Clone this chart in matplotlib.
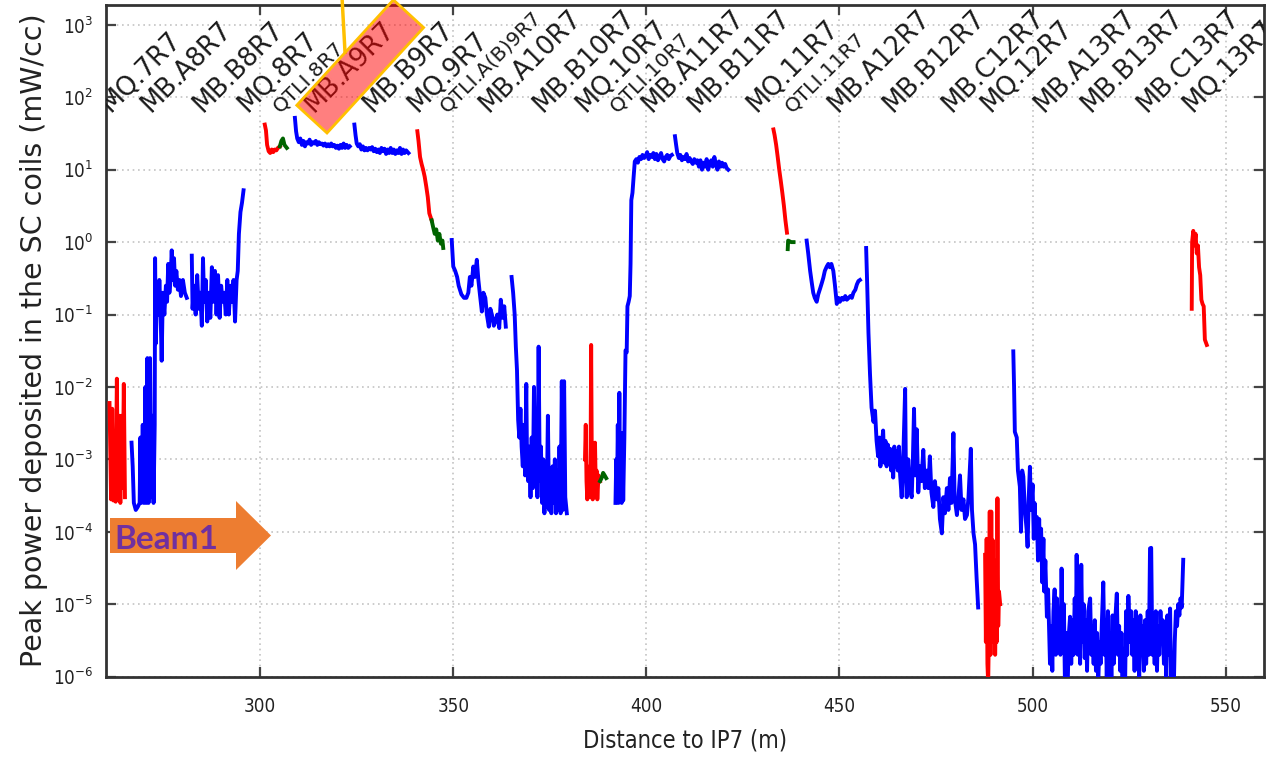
import numpy as np
import matplotlib
matplotlib.use("Agg")
import matplotlib.pyplot as plt
import matplotlib.patches as mpatches
from matplotlib.lines import Line2D
from matplotlib.ticker import NullLocator, FixedLocator

# element names written along the top, and where they sit along the line (m)
element_names = ["MQ.7R7", "MB.A8R7", "MB.B8R7", "MQ.8R7", "QTLI.8R7", "MB.A9R7", "MB.B9R7",
                 "MQ.9R7", "QTLI.A(B)9R7", "MB.A10R7", "MB.B10R7", "MQ.10R7", "QTLI.10R7",
                 "MB.A11R7", "MB.B11R7", "MQ.11R7", "QTLI.11R7", "MB.A12R7", "MB.B12R7",
                 "MB.C12R7", "MQ.12R7", "MB.A13R7", "MB.B13R7", "MB.C13R7", "MQ.13R7"]
element_pos = [261.1, 271.5, 285.2, 296.8, 305.1, 313.7, 329.2,
               340.6, 348.4, 359.0, 373.2, 384.1, 392.4,
               401.4, 413.3, 428.6, 437.7, 449.6, 463.6,
               479.1, 489.0, 502.7, 514.9, 529.6, 541.3]

# --- quadrupoles (red) ---
mq7_x = [261.0, 261.4, 261.7, 262.0, 262.3, 262.6, 262.9, 263.2, 263.5, 263.8, 264.1, 264.4, 264.7, 265.0]
mq7_y = [6e-3, 2.8e-4, 5e-3, 2.7e-4, 1.1e-3, 2.6e-4, 1.3e-2, 3e-4, 4e-3, 2.5e-4, 4e-3, 4e-4, 1.1e-2, 3e-4]

mq8_x = [301.2, 301.5, 301.8, 302.2, 302.6, 303.0, 303.4, 303.8, 304.2, 304.6, 305.1]
mq8_y = [42, 35, 22, 18, 17, 19, 17.5, 19, 18.5, 20, 21]

mq9_x = [340.7, 341.0, 341.4, 341.8, 342.2, 342.6, 343.0, 343.4, 343.8, 344.4]
mq9_y = [34, 25, 15, 12, 10, 8, 5.9, 4.2, 2.5, 2.0]

mq10_x = [384.1, 384.3, 384.5, 384.7, 384.9, 385.1, 385.3, 385.5, 385.7, 385.9,
          386.1, 386.3, 386.5, 386.7, 386.9, 387.1, 387.3, 387.6, 388.0]
mq10_y = [1e-3, 3e-3, 5e-4, 2.8e-4, 7e-4, 4e-4, 8e-4, 3e-4, 3.8e-2, 5e-4,
          2.8e-4, 1e-3, 3e-4, 1.7e-3, 4e-4, 7e-4, 2.8e-4, 6e-4, 5e-4]

mq11_x = [432.9, 433.2, 433.6, 434.0, 434.4, 434.8, 435.2, 435.6, 436.0, 436.4]
mq11_y = [36, 30, 22, 15, 10, 7, 4.8, 3.2, 2.0, 1.35]

mq12_x = [487.7, 487.9, 488.1, 488.3, 488.5, 488.7, 488.9, 489.1, 489.3, 489.5,
          489.7, 489.9, 490.1, 490.3, 490.5, 490.7, 490.9, 491.1, 491.3, 491.6]
mq12_y = [4.8e-5, 3e-6, 8e-5, 1.5e-6, 8e-7, 5e-6, 1.9e-4, 2e-6, 1.9e-4, 4e-6,
          7.6e-5, 3e-6, 4e-5, 2e-6, 1e-5, 3e-6, 2.9e-4, 5e-6, 1.5e-5, 1e-5]

mq13_x = [541.2, 541.3, 541.6, 541.9, 542.2, 542.5, 542.8, 543.1, 543.4, 543.7, 544.0, 544.3, 544.6, 545.1]
mq13_y = [0.12, 1.0, 1.43, 0.9, 1.3, 0.7, 0.9, 0.45, 0.35, 0.16, 0.14, 0.13, 0.045, 0.038]

# --- QTLI (green) ---
qtli8_x = [305.1, 305.5, 305.9, 306.3, 306.9]
qtli8_y = [21, 25, 27, 22, 20]

qtli9_x = [344.4, 344.8, 345.2, 345.6, 346.0, 346.4, 346.8, 347.2, 347.4]
qtli9_y = [2.0, 1.6, 1.3, 1.5, 1.05, 1.3, 0.95, 1.05, 0.83]

qtli10_x = [388.0, 388.4, 388.8, 389.2, 389.6]
qtli10_y = [5e-4, 5.5e-4, 6.5e-4, 6e-4, 5.5e-4]

qtli11_x = [436.6, 436.7, 437.5, 438.1]
qtli11_y = [0.8, 1.05, 1.0, 1.0]

# --- dipoles (blue) ---
mb8_x = [266.7, 267.0, 267.3, 267.8, 268.3, 268.8, 269.0, 269.2, 269.6, 269.9, 270.3, 270.5, 270.8,
         271.1, 271.5, 271.8, 272.1, 272.4, 272.7, 272.8, 273.0, 273.3, 273.6, 273.9, 274.2, 274.5,
         274.8, 275.2, 275.6, 275.9, 276.2, 276.5, 276.8, 277.1, 277.4, 277.7, 278.0, 278.3, 278.7,
         279.1, 279.5, 280.0, 280.5, 281.0, np.nan,
         282.3, 282.5, 282.9, 283.3, 283.7, 284.1, 284.5, 284.9, 285.2, 285.5, 285.9, 286.3, 286.7,
         287.1, 287.5, 287.9, 288.3, 288.7, 289.1, 289.5, 289.9, 290.3, 290.7, 291.1, 291.5, 291.9,
         292.3, 292.7, 293.1, 293.5, 293.9, 294.2, 294.5, 294.9, 295.3, 295.7]
mb8_y = [1.7e-3, 8e-4, 2.5e-4, 2e-4, 2.2e-4, 2.5e-4, 2e-3, 2.5e-4, 3e-3, 2.5e-4, 1e-2, 2.5e-4, 2.5e-2,
         2.5e-4, 2.5e-2, 3e-4, 4e-3, 2.5e-4, 3e-3, 0.6, 0.04, 0.25, 0.1, 0.3, 0.12, 0.023,
         0.2, 0.1, 0.25, 0.15, 0.5, 0.2, 0.3, 0.77, 0.3, 0.6, 0.25, 0.4, 0.22,
         0.3, 0.18, 0.3, 0.2, 0.17, np.nan,
         0.65, 0.12, 0.25, 0.1, 0.35, 0.12, 0.2, 0.07, 0.6, 0.15, 0.3, 0.08, 0.2,
         0.09, 0.45, 0.15, 0.4, 0.1, 0.35, 0.09, 0.25, 0.15, 0.2, 0.1, 0.3, 0.1,
         0.25, 0.15, 0.3, 0.08, 0.3, 0.4, 1.3, 2.6, 3.5, 5.2]

mb9_x = [309.0, 309.3, 309.6, 310.0, 310.4, 310.8, 311.2, 311.6, 312.0, 312.4, 312.8, 313.2, 313.6,
         314.0, 314.4, 314.8, 315.2, 315.6, 316.0, 316.4, 316.8, 317.2, 317.6, 318.0, 318.4, 318.8,
         319.2, 319.6, 320.0, 320.4, 320.8, 321.2, 321.6, 322.0, 322.4, 322.8, 323.2, np.nan,
         324.4, 324.7, 325.0, 325.4, 325.8, 326.2, 326.6, 327.0, 327.4, 327.8, 328.2, 328.6, 329.0,
         329.4, 329.8, 330.2, 330.6, 331.0, 331.4, 331.8, 332.2, 332.6, 333.0, 333.4, 333.8, 334.2,
         334.6, 335.0, 335.4, 335.8, 336.2, 336.6, 337.0, 337.4, 337.8, 338.4]
mb9_y = [52, 34, 27, 24, 27, 22, 25, 21, 24, 23, 26, 22, 24,
         23, 25, 22, 24, 22.5, 23, 21.5, 23, 21, 22.5, 21, 23, 21,
         22, 20, 21.5, 19.5, 22, 20, 23, 20, 22, 20, 21, np.nan,
         42, 30, 23, 21, 22.5, 19, 21, 18.5, 20, 18.5, 20, 19, 20.5,
         18, 19.5, 17.5, 19, 17, 20, 18, 19.5, 16.5, 19, 17, 20, 17,
         19, 16.5, 18.5, 17, 20, 16.5, 19, 17, 18.5, 17]

mb10_x = [349.6, 350.0, 350.5, 351.0, 351.4, 352.1, 352.8, 353.4, 353.9, 354.3, 354.7, 355.2,
          355.6, 356.1, 356.5, 356.9, 357.4, 357.8, 358.3, 358.7, 359.2, 359.6, 360.0, 360.5,
          361.0, 361.4, 361.9, 362.3, 362.8, 363.2, 363.6, np.nan,
          365.1, 365.5, 365.9, 366.2, 366.5, 366.8, 367.1, 367.4, 367.7, 368.0, 368.3, 368.6,
          368.9, 369.1, 369.4, 369.7, 370.0, 370.3, 370.6, 370.9, 371.2, 371.5, 371.8, 372.1,
          372.4, 372.7, 373.0, 373.3, 373.6, 373.9, 374.2, 374.5, 374.8, 375.1, 375.4, 375.7,
          376.0, 376.3, 376.6, 376.9, 377.2, 377.5, 377.8, 378.1, 378.4, 378.7, 379.0, 379.4]
mb10_y = [1.07, 0.46, 0.4, 0.33, 0.25, 0.19, 0.17, 0.17, 0.2, 0.33, 0.25, 0.46,
          0.33, 0.57, 0.3, 0.19, 0.11, 0.2, 0.17, 0.1, 0.068, 0.12, 0.1, 0.07,
          0.085, 0.1, 0.065, 0.16, 0.09, 0.13, 0.068, np.nan,
          0.33, 0.2, 0.1, 0.036, 0.017, 3.5e-3, 2e-3, 5e-3, 1.5e-3, 8e-4, 3e-3, 6e-4,
          1.1e-2, 1e-3, 5e-4, 1.5e-3, 3e-4, 2e-3, 4e-4, 1e-2, 6e-4, 2e-3, 3e-4, 3.6e-2,
          5e-4, 1.5e-3, 2.5e-4, 1e-3, 1.8e-4, 5e-4, 2.2e-4, 4e-3, 2e-4, 6e-4, 1.8e-4, 8e-4,
          2.5e-4, 1e-3, 1.8e-4, 7e-4, 2e-4, 1.5e-3, 1.8e-4, 1.2e-2, 2e-4, 1.2e-2, 3e-4, 1.8e-4]

mb11_x = [392.0, 392.2, 392.4, 392.6, 392.8, 393.0, 393.2, 393.4, 393.6, 393.8, 394.0, 394.3,
          394.6, 394.9, 395.1, 395.4, 395.7, 395.9, 396.1, 396.4, 396.7, 397.0, 397.4, 397.8,
          398.2, 398.6, 399.0, 399.4, 399.8, 400.2, 400.6, 401.0, 401.4, 401.8, 402.2, 402.6,
          403.0, 403.4, 403.8, 404.2, 404.6, 405.0, 405.4, 405.8, 406.2, 406.6, np.nan,
          407.4, 407.7, 408.0, 408.4, 408.8, 409.2, 409.6, 410.0, 410.4, 410.8, 411.2, 411.6,
          412.0, 412.4, 412.8, 413.2, 413.6, 414.0, 414.4, 414.8, 415.2, 415.6, 416.0, 416.4,
          416.8, 417.2, 417.6, 418.0, 418.4, 418.8, 419.2, 419.6, 420.0, 420.4, 420.8, 421.2]
mb11_y = [2.5e-4, 1e-3, 3e-4, 3e-3, 2.5e-4, 8.3e-3, 3e-4, 2e-3, 2.5e-4, 2.3e-3, 2.7e-4, 2e-3,
          3.2e-2, 3e-2, 0.13, 0.15, 0.18, 0.5, 3.8, 4.8, 8, 13, 14, 12.5,
          15, 14, 16, 14.5, 15.5, 17.5, 14, 16, 15, 17, 14, 16.5,
          13.5, 15, 17, 14, 13, 15, 16, 14, 15.5, 16, np.nan,
          29, 22, 17, 14.5, 16, 13.5, 15, 14, 16.5, 13, 14.5, 13,
          12, 14, 12.5, 13.5, 11, 13.5, 10, 12.5, 11, 14, 10, 12,
          13.5, 11, 15, 12, 10, 13, 11, 12.5, 11, 12, 10.5, 10]

mb12a_x = [441.5, 441.9, 442.4, 442.8, 443.2, 443.6, 444.1, 444.5, 445.0, 445.4, 445.8, 446.2,
           446.7, 447.1, 447.5, 447.9, 448.4, 448.8, 449.3, 449.7, 450.1, 450.6, 451.0, 451.5,
           451.9, 452.4, 452.8, 453.2, 453.6, 454.1, 454.5, 454.9, 455.3]
mb12a_y = [1.05, 0.7, 0.4, 0.28, 0.2, 0.17, 0.15, 0.19, 0.23, 0.27, 0.32, 0.4,
           0.46, 0.5, 0.45, 0.5, 0.4, 0.26, 0.14, 0.17, 0.15, 0.17, 0.16, 0.18,
           0.16, 0.17, 0.18, 0.17, 0.2, 0.22, 0.26, 0.29, 0.3]

mb12bc_x = [456.9, 457.2, 457.5, 457.9, 458.3, 458.8, 459.2, 459.6, 460.0, 460.3, 460.6, 460.9,
            461.3, 461.6, 461.9, 462.2, 462.5, 462.8, 463.1, 463.4, 463.7, 463.9, 464.2, 464.5,
            464.8, 465.1, 465.4, 465.7, 466.1, 466.5, 467.0, 467.2, 467.4, 467.8, 468.2, 468.7,
            469.0, 469.3, 469.6, 470.0, 470.4, 470.8, 471.2, 471.7, 472.1, 472.6, 473.0, 473.4,
            473.8, 474.3, 474.7, 475.2, 475.6, 476.0, 476.5, 476.9, 477.3, 477.8, 478.2, 478.6,
            479.0, 479.5, 479.8, 480.4, 480.8, 481.2, 481.6, 482.1, 482.5, 483.0, 483.4, 484.0,
            484.3, 484.7, 485.1, 485.5, 485.9]
mb12bc_y = [0.83, 0.23, 0.056, 0.015, 5.2e-3, 3.3e-3, 4.7e-3, 1.8e-3, 1.1e-3, 2e-3, 8e-4, 1.5e-3,
            2.5e-3, 9e-4, 1.8e-3, 8e-4, 1.6e-3, 1e-3, 1.4e-3, 7e-4, 1.2e-3, 5.6e-4, 1.5e-3, 8e-4,
            1.3e-3, 7e-4, 1.5e-3, 6e-4, 3e-4, 1e-3, 9.4e-3, 6e-4, 3e-4, 1e-3, 4e-4, 3e-4,
            1e-3, 5e-3, 6e-4, 2.6e-3, 3.5e-4, 8e-4, 5e-4, 1.35e-3, 4e-4, 7e-4, 4e-4, 1.1e-3,
            3.5e-4, 2.2e-4, 5e-4, 2.8e-4, 4e-4, 1.5e-4, 9.5e-5, 3e-4, 1.8e-4, 4e-4, 2e-4, 5.5e-4,
            2.5e-4, 2.3e-3, 3e-4, 1.7e-4, 3e-4, 6e-4, 2e-4, 2.8e-4, 1.5e-4, 1.7e-4, 3e-4, 1.4e-3,
            2e-4, 9.5e-5, 6.7e-5, 2.3e-5, 9e-6]

mb13_x = [495.0, 495.2, 495.4, 495.9, 496.2, 496.7, 497.0, 497.3, 497.6, 498.0, 498.5, 498.7,
          499.0, 499.3, 499.6, 500.0, 500.3, 500.5, 500.8, 501.1, 501.4, 501.7, 501.9, 502.2,
          502.5, 502.8, 503.0, 503.3, 503.7, 504.0, 504.3, 504.5, 504.8, 505.1, 505.4, 505.7,
          506.0, 506.3, 506.6, 506.9, 507.2, 507.5, 507.8, 508.1, 508.4, 508.7, 509.0, 509.4,
          509.7, 510.0, 510.3, 510.6, 510.9, 511.2, 511.4, 511.7, 512.0, 512.3, 512.6, 512.9,
          513.2, 513.5, 513.8, 514.1, 514.4, 514.9, 515.2, 515.5, 515.8, 516.1, 516.4, 516.7,
          517.0, 517.3, 517.6, 517.9, 518.3, 518.6, 518.9, 519.2, 519.5, 519.8, 520.1, 520.4,
          520.7, 521.0, 521.3, 521.8, 522.1, 522.4, 522.7, 523.0, 523.3, 523.6, 523.9, 524.2,
          524.5, 524.8, 525.2, 525.5, 525.8, 526.1, 526.4, 526.7, 527.0, 527.3, 527.6, 527.9,
          528.2, 528.5, 528.8, 529.1, 529.4, 529.8, 530.1, 530.4, 530.7, 531.0, 531.3, 531.6,
          531.9, 532.2, 532.5, 532.8, 533.1, 533.4, 533.7, 534.0, 534.3, 534.6, 534.9, 535.2,
          535.6, 535.9, 536.2, 536.5, 536.8, 537.1, 537.4, 537.7, 538.0, 538.3, 538.6, 539.0]
mb13_y = [3.1e-2, 1e-2, 2.4e-3, 2e-3, 7e-4, 4.2e-4, 1e-4, 7e-4, 5.8e-4, 2e-4, 1e-4, 6.2e-5,
          3e-4, 7.9e-4, 2e-4, 4.5e-4, 8e-5, 2.5e-4, 1e-4, 1.6e-4, 4e-5, 1.5e-4, 5e-5, 1.1e-4,
          2e-5, 8e-5, 1.5e-5, 4e-5, 6.7e-6, 1.6e-5, 4e-6, 1.5e-6, 5e-6, 1.2e-6, 8e-6, 1.6e-5,
          2e-6, 1.2e-5, 3e-6, 8e-6, 2e-6, 3.1e-5, 3e-6, 1e-5, 6e-7, 4e-6, 5e-7, 4e-6,
          6.7e-6, 1.5e-6, 6e-6, 2e-6, 1.2e-5, 3e-6, 4.8e-5, 2e-6, 8e-6, 1.5e-6, 3.5e-5, 3e-6,
          1e-5, 1.8e-6, 6e-6, 1.2e-6, 8e-6, 1.2e-5, 2e-6, 5e-6, 1.5e-6, 6e-6, 1.2e-6, 4e-6,
          8e-7, 3e-6, 1.5e-6, 5e-6, 2e-5, 2e-6, 6e-6, 1e-6, 8e-6, 1.5e-6, 4e-6, 8e-7,
          7e-6, 1.5e-6, 5e-6, 1.4e-5, 2e-6, 5e-6, 1.2e-6, 4e-6, 5e-7, 4e-7, 5e-7, 8e-6,
          2e-6, 1.3e-5, 3e-6, 8e-6, 2e-6, 6e-6, 1.2e-6, 8e-6, 1.5e-6, 4e-6, 1e-6, 7e-6,
          2e-6, 5e-6, 1.2e-6, 6e-6, 1.5e-6, 8e-6, 2e-6, 5.9e-5, 6e-5, 2e-6, 6.7e-6, 1.5e-6,
          8e-6, 1.2e-6, 5e-6, 2e-6, 8e-6, 3e-6, 6e-6, 1.5e-6, 5e-6, 1e-6, 7e-6, 2e-6,
          8.7e-6, 5e-7, 4e-7, 5e-7, 3e-6, 8e-6, 5e-6, 1e-5, 7e-6, 1.2e-5, 9e-6, 4.1e-5]

red_segments = [(mq7_x, mq7_y), (mq8_x, mq8_y), (mq9_x, mq9_y), (mq10_x, mq10_y),
                (mq11_x, mq11_y), (mq12_x, mq12_y), (mq13_x, mq13_y)]
green_segments = [(qtli8_x, qtli8_y), (qtli9_x, qtli9_y), (qtli10_x, qtli10_y), (qtli11_x, qtli11_y)]
blue_segments = [(mb8_x, mb8_y), (mb9_x, mb9_y), (mb10_x, mb10_y), (mb11_x, mb11_y),
                 (mb12a_x, mb12a_y), (mb12bc_x, mb12bc_y), (mb13_x, mb13_y)]

W, H, DPI = 1273, 759, 100
fig = plt.figure(figsize=(W / DPI, H / DPI), dpi=DPI, facecolor="white")
ax = fig.add_axes([0.0830, 0.1086, 0.9102, 0.8852])

for x, y in blue_segments:
    ax.plot(x, y, color="#0000ff", lw=2.8, zorder=3)
for x, y in red_segments:
    ax.plot(x, y, color="#ff0000", lw=2.8, zorder=3)
for x, y in green_segments:
    ax.plot(x, y, color="#006400", lw=2.8, zorder=4)

ax.set_yscale("log")
ax.set_xlim(260, 560)
ax.set_ylim(1e-6, 1.9e3)
ax.yaxis.set_major_locator(FixedLocator([10.0 ** k for k in range(-6, 4)]))
ax.yaxis.set_minor_locator(NullLocator())
ax.set_xticks([300, 350, 400, 450, 500, 550])

ax.grid(True, which="major", color="#c4c4c4", lw=1.2, ls=(0, (1, 2.2)))
ax.set_axisbelow(True)
for s in ax.spines.values():
    s.set_linewidth(2.0)
    s.set_color("#333333")
ax.tick_params(direction="in", length=7, width=1.6, color="#444444",
               top=True, right=True, labelsize=13.5, labelcolor="#222222")
ax.tick_params(axis="x", pad=15)
ax.tick_params(axis="y", pad=9)
for lab in ax.get_xticklabels() + ax.get_yticklabels():
    lab.set_fontstretch("condensed")

ax.set_xlabel("Distance to IP7 (m)", fontsize=17, color="#222222", fontstretch="condensed")
ax.set_ylabel("Peak power deposited in the SC coils (mW/cc)", fontsize=20.5, color="#222222")
ax.xaxis.set_label_coords(0.5, -0.077)
ax.yaxis.set_label_coords(-0.050, 0.5)

# element names across the top
trans = ax.get_xaxis_transform()
for name, pos in zip(element_names, element_pos):
    small = name.startswith("QTLI")
    ax.text(pos, 0.8388, name, transform=trans, rotation=45, rotation_mode="anchor",
            ha="left", va="baseline", fontsize=14.5 if small else 18.5,
            color="#1a1a1a", clip_on=True, zorder=5)

# highlight around MB.A9R7 with its callout line
inch = fig.dpi_scale_trans
fig.add_artist(Line2D([3.42, 3.45], [7.62, 7.07], transform=inch, color="#ffc000", lw=2.5, zorder=9))
fig.add_artist(mpatches.Rectangle((3.27, 6.26), 1.43, 0.41, angle=47.5, transform=inch,
                                  facecolor=(1, 0, 0, 0.5), edgecolor="#ffc000", lw=2, zorder=10))

# beam direction arrow
fig.add_artist(mpatches.FancyArrow(1.10, 2.235, 1.61, 0, width=0.35, head_width=0.69,
                                   head_length=0.35, length_includes_head=True,
                                   transform=inch, color="#ed7d31", lw=0, zorder=10))
fig.text(1.14, 2.10, "Beam1", transform=inch, fontsize=24, fontweight="bold",
         family=["Lato", "DejaVu Sans"], color="#7030a0", ha="left", va="baseline", zorder=11)

fig.savefig("out.png", dpi=DPI, facecolor="white")
